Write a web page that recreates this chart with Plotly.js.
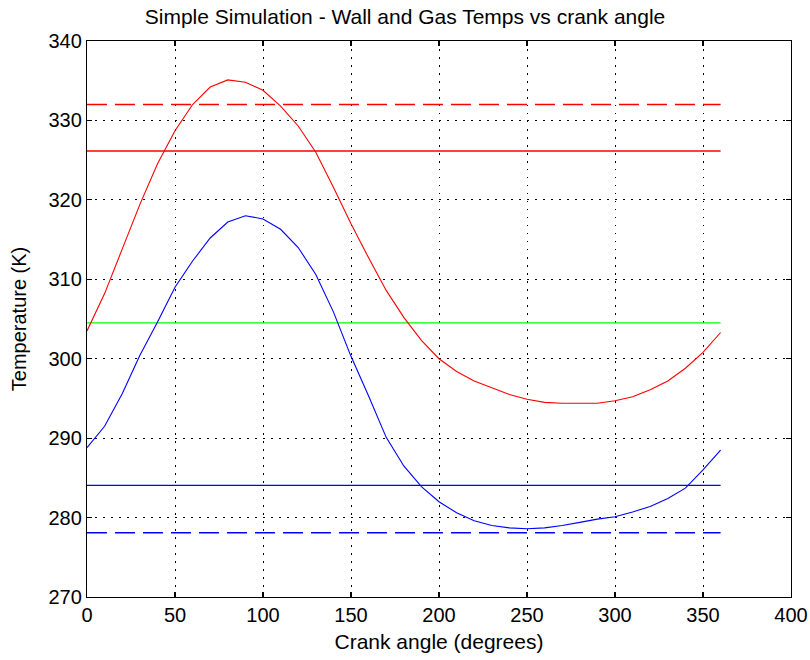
<!DOCTYPE html>
<html>
<head>
<meta charset="utf-8">
<script src="https://cdn.plot.ly/plotly-3.0.1.min.js"></script>
<style>
  html, body { margin: 0; padding: 0; background: #ffffff; }
  #chart { width: 810px; height: 660px; }
</style>
</head>
<body>
<div id="chart"></div>
<script>
// Crank angle samples (degrees)
const crankAngle = [0, 10, 20, 30, 40, 50, 60, 70, 80, 90, 100, 110, 120, 130, 140, 150, 160, 170, 180,
                    190, 200, 210, 220, 230, 240, 250, 260, 270, 280, 290, 300, 310, 320, 330, 340, 350, 360];

// Red curve (K)
const redTemp = [303.5, 308.2, 313.8, 319.4, 324.5, 328.7, 332.0, 334.2, 335.1, 334.8, 333.8, 331.8, 329.3,
                 326.0, 321.6, 317.0, 312.7, 308.6, 305.2, 302.3, 300.0, 298.4, 297.2, 296.3, 295.5, 294.9,
                 294.5, 294.4, 294.4, 294.4, 294.7, 295.2, 296.1, 297.2, 298.8, 300.8, 303.3];

// Blue curve (K)
const blueTemp = [288.8, 291.5, 295.6, 300.4, 304.6, 309.0, 312.3, 315.2, 317.2, 318.0, 317.6, 316.3, 314.0,
                  310.6, 305.9, 300.3, 295.3, 290.1, 286.5, 283.9, 282.0, 280.6, 279.6, 279.0, 278.7, 278.6,
                  278.7, 279.0, 279.4, 279.8, 280.1, 280.7, 281.4, 282.4, 283.7, 286.0, 288.5];

// Constant reference levels (K), drawn across the crank-angle span
const levelSpan = [0, 360];
const redDashedLevel = 332.0;
const redSolidLevel = 326.15;
const greenLevel = 304.5;
const blueSolidLevel = 284.05;
const blueDashedLevel = 278.1;

// Axis ticks
const xTicks = [0, 50, 100, 150, 200, 250, 300, 350, 400];
const yTicks = [270, 280, 290, 300, 310, 320, 330, 340];

const RED = 'rgb(255,0,0)';
const BLUE = 'rgb(0,0,255)';
const GREEN = 'rgb(0,255,0)';

function level(v) { return levelSpan.map(() => v); }

const traces = [
  { x: levelSpan, y: level(redDashedLevel), mode: 'lines', line: { color: RED, width: 1.5, dash: '20px,8px' } },
  { x: levelSpan, y: level(redSolidLevel), mode: 'lines', line: { color: RED, width: 1.3 } },
  { x: levelSpan, y: level(greenLevel), mode: 'lines', line: { color: GREEN, width: 1.3 } },
  { x: levelSpan, y: level(blueSolidLevel), mode: 'lines', line: { color: BLUE, width: 1.3 } },
  { x: levelSpan, y: level(blueDashedLevel), mode: 'lines', line: { color: BLUE, width: 1.5, dash: '20px,8px' } },
  { x: crankAngle, y: redTemp, mode: 'lines', line: { color: RED, width: 1.1 } },
  { x: crankAngle, y: blueTemp, mode: 'lines', line: { color: BLUE, width: 1.1 } }
];

const FONT = 'Liberation Sans, Arial, sans-serif';

const axisCommon = {
  showline: true,
  linecolor: '#000000',
  linewidth: 1.2,
  mirror: 'ticks',
  ticks: 'inside',
  ticklen: 5,
  tickwidth: 1.2,
  tickcolor: '#000000',
  showgrid: true,
  gridcolor: '#000000',
  gridwidth: 1,
  griddash: '1.5px,6.5px',
  zeroline: false,
  tickfont: { family: FONT, size: 20, color: '#000000' }
};

const layout = {
  width: 810,
  height: 660,
  margin: { l: 87, r: 19, t: 41, b: 63 },
  paper_bgcolor: '#ffffff',
  plot_bgcolor: '#ffffff',
  showlegend: false,
  hovermode: false,
  title: {
    text: 'Simple Simulation - Wall and Gas Temps vs crank angle',
    font: { family: FONT, size: 21, color: '#000000' },
    x: 0.5, xanchor: 'center',
    y: 1 - 17 / 660, yref: 'container', yanchor: 'middle'
  },
  xaxis: Object.assign({}, axisCommon, {
    range: [0, 400],
    tickvals: xTicks,
    ticktext: xTicks.map(String),
    title: { text: 'Crank angle (degrees)', font: { family: FONT, size: 21, color: '#000000' }, standoff: 9 }
  }),
  yaxis: Object.assign({}, axisCommon, {
    range: [270, 340],
    tickvals: yTicks,
    ticktext: yTicks.map(String),
    title: { text: 'Temperature (K)', font: { family: FONT, size: 20, color: '#000000' }, standoff: 16 }
  })
};

Plotly.newPlot('chart', traces, layout, { displayModeBar: false, staticPlot: true });
</script>
</body>
</html>
